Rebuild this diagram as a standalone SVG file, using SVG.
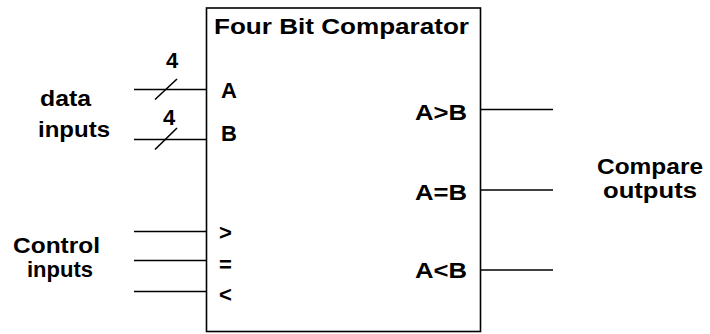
<svg xmlns="http://www.w3.org/2000/svg" width="710" height="334" viewBox="0 0 710 334">
<style>
text{font-family:"Liberation Sans",Arial,sans-serif;font-weight:bold;fill:#000;font-size:22px}
.w{stroke:#000;stroke-width:1.6;fill:none}
</style>
<rect width="710" height="334" fill="#fff"/>
<g id="comparator">
<rect class="w" x="206.5" y="8" width="274" height="323.5"/>
<text x="214" y="34" font-size="23" textLength="255" lengthAdjust="spacingAndGlyphs">Four Bit Comparator</text>
<text x="221" y="98" font-size="24">A</text>
<text x="221" y="141" font-size="24">B</text>
<text x="219" y="240">&gt;</text>
<text x="219" y="272">=</text>
<text x="219" y="302">&lt;</text>
<text x="415" y="120" font-size="23" textLength="52" lengthAdjust="spacingAndGlyphs">A&gt;B</text>
<text x="415" y="200" font-size="23" textLength="52" lengthAdjust="spacingAndGlyphs">A=B</text>
<text x="415" y="278" font-size="23" textLength="52" lengthAdjust="spacingAndGlyphs">A&lt;B</text>
</g>
<g id="data-inputs">
<text x="40" y="106" textLength="51" lengthAdjust="spacingAndGlyphs">data</text>
<text x="38" y="137" textLength="72" lengthAdjust="spacingAndGlyphs">inputs</text>
</g>
<g id="control-inputs">
<text x="13" y="253" font-size="21" textLength="87" lengthAdjust="spacingAndGlyphs">Control</text>
<text x="27" y="277" font-size="21" textLength="66" lengthAdjust="spacingAndGlyphs">inputs</text>
</g>
<g id="compare-outputs">
<text x="597" y="174" font-size="20" textLength="106" lengthAdjust="spacingAndGlyphs">Compare</text>
<text x="603" y="198" font-size="20" textLength="94" lengthAdjust="spacingAndGlyphs">outputs</text>
</g>
<g id="connectors">
<line class="w" x1="134" y1="89.5" x2="206.5" y2="89.5"/>
<line class="w" x1="155" y1="99.5" x2="177" y2="79"/>
<text x="166" y="68" font-size="22">4</text>
<line class="w" x1="134" y1="139.5" x2="206.5" y2="139.5"/>
<line class="w" x1="155" y1="149.5" x2="177" y2="128"/>
<text x="163" y="125" font-size="22">4</text>
<line class="w" x1="134" y1="231.5" x2="206.5" y2="231.5"/>
<line class="w" x1="134" y1="260.5" x2="206.5" y2="260.5"/>
<line class="w" x1="134" y1="291.5" x2="206.5" y2="291.5"/>
<line class="w" x1="480.5" y1="109.5" x2="553" y2="109.5"/>
<line class="w" x1="480.5" y1="190" x2="553" y2="190"/>
<line class="w" x1="480.5" y1="270" x2="553" y2="270"/>
</g>
</svg>
